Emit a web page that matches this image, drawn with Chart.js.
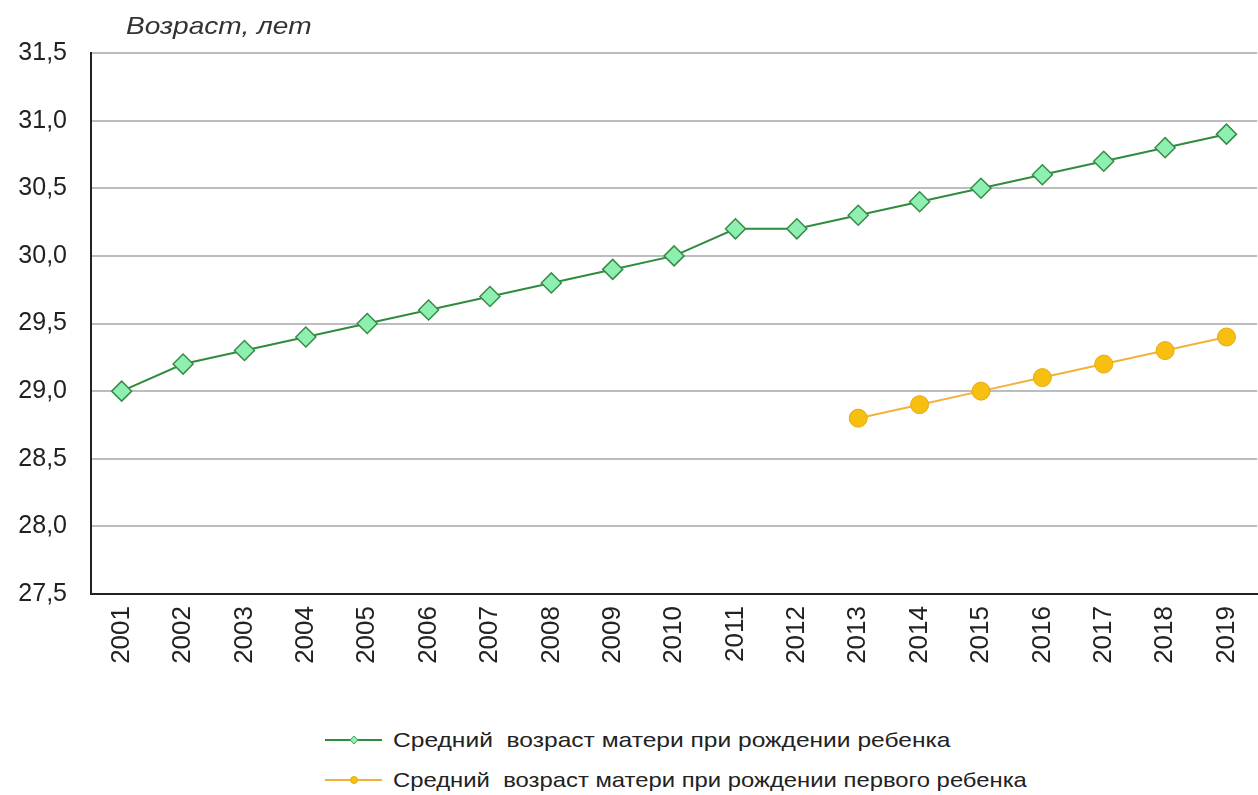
<!DOCTYPE html>
<html lang="ru">
<head>
<meta charset="utf-8">
<title>Средний возраст матери</title>
<script src="https://cdn.jsdelivr.net/npm/chart.js@4"></script>
<style>
  html, body { margin: 0; padding: 0; background: #fff; overflow: hidden; }
  #wrap { position: relative; width: 1270px; height: 700px; }
  .legend { position: absolute; left: 325px; top: 720px; font-family: "Liberation Sans", Arial, sans-serif; font-size: 21px; color: #222; }
  .legend .row { display: flex; align-items: center; height: 40px; white-space: pre; }
  .legend .sw { position: relative; width: 57px; height: 10px; margin-right: 11px; flex: none; }
  .legend .sw .ln { position: absolute; left: 0; right: 0; top: 4px; height: 2px; }
  .legend .sw .mk { position: absolute; left: 25px; top: 1px; width: 8px; height: 8px; box-sizing: border-box; }
  .legend .txt { display: inline-block; transform-origin: left center; }
</style>
</head>
<body>
<div id="wrap"><canvas id="chart"></canvas></div>
<div class="legend" id="legend"></div>
<script>
const years = ['2001', '2002', '2003', '2004', '2005', '2006', '2007', '2008', '2009', '2010',
  '2011', '2012', '2013', '2014', '2015', '2016', '2017', '2018', '2019'];
const avgAge = [29.0, 29.2, 29.3, 29.4, 29.5, 29.6, 29.7, 29.8, 29.9, 30.0,
  30.2, 30.2, 30.3, 30.4, 30.5, 30.6, 30.7, 30.8, 30.9];
const firstChildAge = [null, null, null, null, null, null, null, null, null, null,
  null, null, 28.8, 28.9, 29.0, 29.1, 29.2, 29.3, 29.4];
const seriesNames = [
  'Средний  возраст матери при рождении ребенка',
  'Средний  возраст матери при рождении первого ребенка'
];
const axisTitle = 'Возраст, лет';

const FONT = '"Liberation Sans", Arial, sans-serif';

// italic caption above the y axis, a bit wider like the original
const topTitle = {
  id: 'topTitle',
  afterDraw(chart) {
    const ctx = chart.ctx;
    ctx.save();
    ctx.font = 'italic 24px ' + FONT;
    ctx.fillStyle = '#333';
    ctx.textBaseline = 'alphabetic';
    ctx.translate(126, 34);
    ctx.scale(1.17, 1);
    ctx.fillText(axisTitle, 0, 0);
    ctx.restore();
  }
};

const canvas = document.getElementById('chart');
canvas.width = 1270;
canvas.height = 700;

new Chart(canvas.getContext('2d'), {
  type: 'line',
  data: {
    labels: years,
    datasets: [{
      label: seriesNames[0],
      data: avgAge,
      borderColor: '#2f8c3c',
      borderWidth: 2,
      pointStyle: 'rectRot',
      pointRadius: 10,
      pointHoverRadius: 10,
      pointBackgroundColor: '#8df0b0',
      pointBorderColor: '#3a8a48',
      pointBorderWidth: 1.5,
      tension: 0
    }, {
      label: seriesNames[1],
      data: firstChildAge,
      borderColor: '#f2b23a',
      borderWidth: 2,
      pointStyle: 'circle',
      pointRadius: 9,
      pointHoverRadius: 9,
      pointBackgroundColor: '#f7bf10',
      pointBorderColor: '#e8a810',
      pointBorderWidth: 1,
      tension: 0
    }]
  },
  options: {
    responsive: false,
    animation: false,
    layout: { padding: { top: 53, right: 2, left: 0, bottom: 0 } },
    plugins: {
      legend: { display: false },
      title: { display: false },
      tooltip: { enabled: false }
    },
    scales: {
      x: {
        offset: true,
        grid: { display: false, drawTicks: false },
        border: { color: '#222', width: 2 },
        ticks: {
          color: '#222',
          font: { family: FONT, size: 26 },
          minRotation: 90,
          maxRotation: 90,
          padding: 12,
          autoSkip: false
        },
        afterFit(scale) { scale.height = 106; }
      },
      y: {
        min: 27.5,
        max: 31.5,
        grid: { color: '#bdbdbd', lineWidth: 2, drawTicks: false },
        border: { color: '#222', width: 2 },
        ticks: {
          stepSize: 0.5,
          color: '#222',
          font: { family: FONT, size: 25 },
          padding: 24,
          callback: v => v.toFixed(1).replace('.', ',')
        },
        afterFit(scale) { scale.width = 91; }
      }
    }
  },
  plugins: [topTitle]
});

// legend stacked in two left-aligned rows
const legend = document.getElementById('legend');
const swatches = [
  { line: '#2f8c3c', fill: '#8df0b0', border: '#3a8a48', diamond: true, stretch: 1.17 },
  { line: '#f2b23a', fill: '#f7bf10', border: '#e8a810', diamond: false, stretch: 1.135 }
];
seriesNames.forEach((name, i) => {
  const s = swatches[i];
  const row = document.createElement('div');
  row.className = 'row';
  const sw = document.createElement('span');
  sw.className = 'sw';
  const ln = document.createElement('span');
  ln.className = 'ln';
  ln.style.background = s.line;
  const mk = document.createElement('span');
  mk.className = 'mk';
  mk.style.background = s.fill;
  mk.style.border = '1px solid ' + s.border;
  if (s.diamond) mk.style.transform = 'rotate(45deg) scale(0.8)';
  else mk.style.borderRadius = '50%';
  sw.appendChild(ln);
  sw.appendChild(mk);
  const txt = document.createElement('span');
  txt.className = 'txt';
  txt.style.transform = 'scaleX(' + s.stretch + ')';
  txt.textContent = name;
  row.appendChild(sw);
  row.appendChild(txt);
  legend.appendChild(row);
});
</script>
</body>
</html>
